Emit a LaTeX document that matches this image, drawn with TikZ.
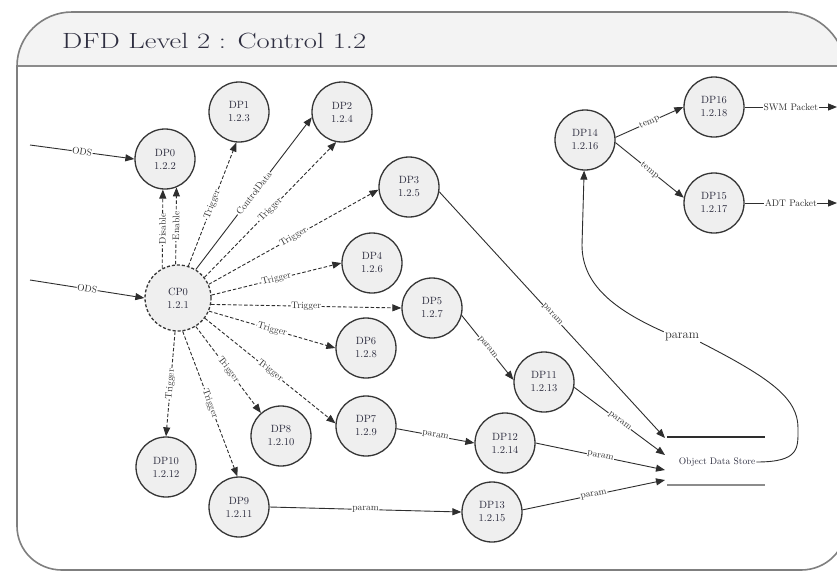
\documentclass[tikz,border=0pt]{standalone}
\usepackage{fontspec}
\usepackage{graphicx}
\usetikzlibrary{arrows.meta}

\definecolor{ink}{HTML}{2E2E2E}
\definecolor{nodefill}{HTML}{EFEFEF}
\definecolor{nodeline}{HTML}{363636}
\definecolor{nodetext}{HTML}{2E2E40}
\definecolor{frameline}{HTML}{7F7F7F}
\definecolor{headfill}{HTML}{F3F3F3}
\definecolor{headline}{HTML}{8C8C8C}

% outline of the rounded panel
\def\panelpath{(17,66) .. controls (17,36.6) and (41.6,12) .. (72,12)
  -- (786,12) .. controls (819.1,12) and (846,38.9) .. (846,72)
  -- (846,526) .. controls (846,550.8) and (825.8,570) .. (801,570)
  -- (62,570) .. controls (37.2,570) and (17,550.8) .. (17,526) -- cycle}

\begin{document}
\begin{tikzpicture}[x=1pt,y=-1pt,
  proc/.style={circle, draw=nodeline, fill=nodefill, line width=1.3pt,
    minimum size=60pt, inner sep=0pt, align=center,
    font=\fontsize{10.5}{13}\selectfont, text=nodetext},
  ctrl/.style={proc, dash pattern=on 3pt off 2pt, minimum size=66pt},
  flow/.style={draw=ink, line width=0.9pt, -{Triangle[length=9pt,width=7pt]}},
  trig/.style={flow, dash pattern=on 3.5pt off 2pt},
  lbl/.style={sloped, fill=white, inner sep=0.6pt,
    font=\fontsize{9.5}{10}\selectfont, text=ink},
]
\useasboundingbox (0,0) rectangle (837,571);
\clip (0,0) rectangle (837,571);
\fill[white] (0,0) rectangle (837,571);

% panel with its header band
\fill[white] \panelpath;
\begin{scope}
  \clip (0,0) rectangle (846,66);
  \fill[headfill] \panelpath;
\end{scope}
\draw[headline, line width=2.6pt] (17,66) -- (846,66);
\draw[frameline, line width=1.6pt] \panelpath;
\node[anchor=west, inner sep=0pt, text=nodetext,
  font=\fontsize{22}{24}\selectfont\addfontfeatures{FakeBold=0.4}] (title) at (62,41)
  {\scalebox{1.3}[1]{DFD Level 2 : Control 1.2}};

% processes
\node[ctrl] (cp0) at (178,298) {CP0\\1.2.1};
\node[proc] (dp0) at (165,159) {DP0\\1.2.2};
\node[proc] (dp1) at (239,112) {DP1\\1.2.3};
\node[proc] (dp2) at (342,112) {DP2\\1.2.4};
\node[proc] (dp3) at (409,187) {DP3\\1.2.5};
\node[proc] (dp4) at (372,263) {DP4\\1.2.6};
\node[proc] (dp5) at (432,308) {DP5\\1.2.7};
\node[proc] (dp6) at (366,348) {DP6\\1.2.8};
\node[proc] (dp7) at (366,426) {DP7\\1.2.9};
\node[proc] (dp8) at (281,436) {DP8\\1.2.10};
\node[proc] (dp9) at (239,507) {DP9\\1.2.11};
\node[proc] (dp10) at (166,467) {DP10\\1.2.12};
\node[proc] (dp11) at (544,382) {DP11\\1.2.13};
\node[proc] (dp12) at (505,443) {DP12\\1.2.14};
\node[proc] (dp13) at (492,512) {DP13\\1.2.15};
\node[proc] (dp14) at (585,140) {DP14\\1.2.16};
\node[proc] (dp15) at (714,203) {DP15\\1.2.17};
\node[proc] (dp16) at (714,107) {DP16\\1.2.18};

% data store
\draw[ink, line width=1.3pt] (667,437) -- (765,437);
\draw[headline, line width=2.4pt] (667,485) -- (765,485);
\node[font=\fontsize{9.5}{10}\selectfont, text=nodetext, inner sep=1pt]
  (store) at (717,462) {Object Data Store};

% free ends
\coordinate (ods1) at (30,145);
\coordinate (ods2) at (30,280);
\coordinate (s1) at (665,438);
\coordinate (s2) at (665,455);
\coordinate (s3) at (665,470);
\coordinate (s4) at (665,480);
\coordinate (swm) at (837,107);
\coordinate (adt) at (837,203);

% inputs
\draw[flow] (ods1) -- node[lbl]{ODS} (dp0.180);
\draw[flow] (ods2) -- node[lbl]{ODS} (cp0.180);

% control signals
\draw[trig] (cp0.118) -- node[lbl]{Disable} (dp0.-94);
\draw[trig] (cp0.94) -- node[lbl]{Enable} (dp0.-68);
\draw[trig] (cp0.72) -- node[lbl]{Trigger} (dp1.-95);
\draw[flow] (cp0.58) -- node[lbl]{ControlData} (dp2.190);
\draw[trig] (cp0.38) -- node[lbl]{Trigger} (dp2.-101);
\draw[trig] (cp0.24) -- node[lbl]{Trigger} (dp3.185);
\draw[trig] (cp0.5) -- node[lbl]{Trigger} (dp4.180);
\draw[trig] (cp0.-11) -- node[lbl]{Trigger} (dp5.180);
\draw[trig] (cp0.-23) -- node[lbl]{Trigger} (dp6.180);
\draw[trig] (cp0.-37) -- node[lbl]{Trigger} (dp7.175);
\draw[trig] (cp0.-58) -- node[lbl]{Trigger} (dp8.131);
\draw[trig] (cp0.-82) -- node[lbl]{Trigger} (dp9.93);
\draw[trig] (cp0.-95) -- node[lbl]{Trigger} (dp10.90);

% parameter flows
\draw[flow] (dp3.-9) -- node[lbl]{param} (s1);
\draw[flow] (dp5.-14) -- node[lbl]{param} (dp11.176);
\draw[flow] (dp11.-10) -- node[lbl]{param} (s2);
\draw[flow] (dp7.-5) -- node[lbl]{param} (dp12.180);
\draw[flow] (dp12.0) -- node[lbl]{param} (s3);
\draw[flow] (dp9.0) -- node[lbl]{param} (dp13.180);
\draw[flow] (dp13.4) -- node[lbl]{param} (s4);

% store back to DP14
\node[font=\fontsize{12.5}{13}\selectfont, text=ink, inner sep=1pt]
  (pbig) at (682,337) {param};
\draw[ink, line width=0.9pt] (store.east) .. controls (800,462) and (798,448) .. (798,428)
  .. controls (798,398) and (770,378) .. (pbig.south east);
\draw[flow] (pbig.north west) .. controls (615,310) and (582,285) .. (582,245) -- (dp14);

% packet outputs
\draw[flow] (dp14.5) -- node[lbl]{temp} (dp16.180);
\draw[flow] (dp14.-5) -- node[lbl]{temp} (dp15.170);
\draw[flow] (dp16.east) -- node[lbl]{SWM Packet} (swm);
\draw[flow] (dp15.east) -- node[lbl]{ADT Packet} (adt);
\end{tikzpicture}
\end{document}
